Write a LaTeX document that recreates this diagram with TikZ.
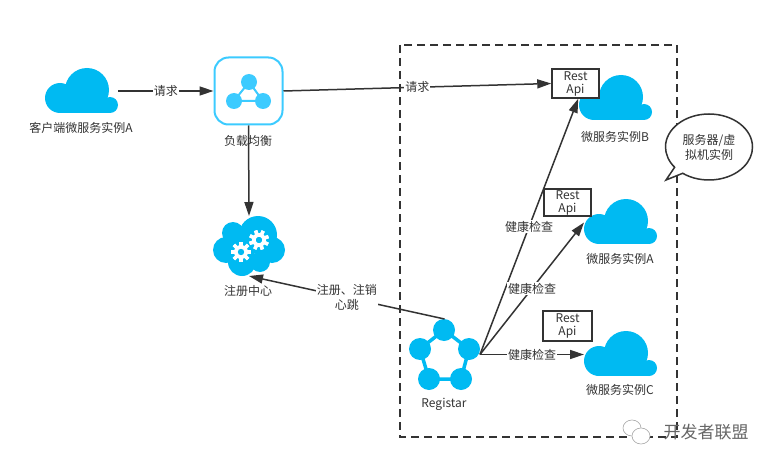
\documentclass[tikz,border=0pt]{standalone}
\usepackage{fontspec}
\setmainfont{Noto Sans CJK SC}
\usetikzlibrary{shapes,shapes.callouts,arrows.meta,positioning}

\definecolor{cloudblue}{HTML}{00BAF2}
\definecolor{lbblue}{HTML}{3CCBFF}
\definecolor{inkgray}{HTML}{333333}

\tikzset{
  iconbox/.style={inner sep=0pt, outer sep=0pt},
  caption/.style={text=inkgray, font=\fontsize{12}{15}\selectfont, align=center},
  flowlabel/.style={caption, fill=white, inner sep=1pt},
  apibox/.style={draw=inkgray, line width=1.5pt, fill=white, inner sep=0pt, text=inkgray,
    font=\fontsize{12}{15}\selectfont, align=center},
  flow/.style={draw=inkgray, line width=1.5pt, -{Triangle[length=14pt,width=9pt]}},
  cloudicon/.pic={
    \fill [cloudblue] (42,21) circle [radius=22];
    \fill [cloudblue] (15,29) circle [radius=15];
    \fill [cloudblue] (65,36) circle [radius=8];
    \fill [cloudblue] (15,30) rectangle (65,44);
  },
  gearicon/.pic={
    \fill [white] (0,0) circle [radius=7];
    \foreach \a in {0,45,...,315} {
      \fill [white, rotate=\a] (-1.7,-10) rectangle (1.7,10);
    }
    \fill [cloudblue] (0,0) circle [radius=3.2];
  }
}

\begin{document}
\begin{tikzpicture}[x=1pt, y=-1pt]
  \useasboundingbox (0,0) rectangle (781,468);

  \draw [inkgray, line width=1.5pt, dash pattern=on 8pt off 5pt] (400,45) rectangle (677,437);

  % clouds
  \node [iconbox, minimum width=73pt, minimum height=45pt] at (81.5,91) (clientA) {};
  \pic at (45,69) {cloudicon};
  \node [iconbox, minimum width=72pt, minimum height=48pt] at (615,98) (cloudB) {};
  \pic at (579,76) {cloudicon};
  \node [iconbox, minimum width=72pt, minimum height=45pt] at (620,222.5) (cloudA) {};
  \pic at (584,200) {cloudicon};
  \node [iconbox, minimum width=72pt, minimum height=45pt] at (620,354.5) (cloudC) {};
  \pic at (584,332) {cloudicon};

  % load balancer
  \node [draw=lbblue, line width=2pt, rounded corners=14pt, minimum width=68pt, minimum height=67pt, fill=white] at (248.5,91) (lb) {};
  \draw [lbblue, line width=2pt] (249,82) -- (234,101) -- (263,101) -- cycle;
  \fill [lbblue] (249,82) circle [radius=8];
  \fill [lbblue] (234,101) circle [radius=8];
  \fill [lbblue] (263,101) circle [radius=8];

  % registry cloud
  \node [iconbox, minimum width=72pt, minimum height=60pt] at (249,246) (regcloud) {};
  \fill [cloudblue] (233,233) circle [radius=11];
  \fill [cloudblue] (258,235) circle [radius=19];
  \fill [cloudblue] (226,250) circle [radius=13];
  \fill [cloudblue] (272,250) circle [radius=13];
  \fill [cloudblue] (242,262) circle [radius=14];
  \fill [cloudblue] (260,262) circle [radius=10];
  \fill [cloudblue] (240,250) circle [radius=15];
  \pic at (241,252) {gearicon};
  \pic [rotate=20] at (259,240) {gearicon};

  % registar ring
  \node [iconbox, minimum width=71pt, minimum height=71pt] at (444.5,354.5) (regist) {};
  \draw [cloudblue, line width=3.5pt] (444,330) -- (469,349) -- (461,379) -- (429,379) -- (420,349) -- cycle;
  \fill [cloudblue] (444,330) circle [radius=11];
  \fill [cloudblue] (469,349) circle [radius=11];
  \fill [cloudblue] (461,379) circle [radius=11];
  \fill [cloudblue] (429,379) circle [radius=11];
  \fill [cloudblue] (420,349) circle [radius=11];

  \node [apibox, minimum width=47pt, minimum height=29pt] at (575.5,83.5) (apiB) {Rest\\[-2pt]Api};
  \node [apibox, minimum width=47pt, minimum height=27pt] at (567.5,202.5) (apiA) {Rest\\[-2pt]Api};
  \node [apibox, minimum width=49pt, minimum height=30pt] at (567.5,326) (apiC) {Rest\\[-2pt]Api};

  \node [caption] at (81,128) (clientlabel) {客户端微服务实例A};
  \node [caption] at (248,141) (lblabel) {负载均衡};
  \node [caption] at (248,291) (reglabel) {注册中心};
  \node [caption] at (444,404) (registlabel) {Registar};
  \node [caption] at (615,137) (labelB) {微服务实例B};
  \node [caption] at (620,259) (labelA) {微服务实例A};
  \node [caption] at (620,390) (labelC) {微服务实例C};

  \node [ellipse callout, draw=inkgray, line width=1.5pt, fill=white, caption, minimum width=87pt, minimum height=66pt, inner sep=0pt, callout absolute pointer={(666,180)}] at (709,147) (server) {服务器/虚\\拟机实例};

  \draw [flow] (clientA.east) -- node [flowlabel] {请求} (lb.west);
  \draw [flow] (lb.east) -- node [flowlabel, pos=0.5] {请求} (apiB.west);
  \draw [flow] (lb.south) -- (regcloud.north);
  \draw [flow] (regist.north) -- node [flowlabel, pos=0.5] {注册、注销\\心跳} (regcloud.south);
  \draw [flow] (regist.east) -- node [flowlabel] {健康检查} (apiB.280);
  \draw [flow] (regist.east) -- node [flowlabel] {健康检查} (cloudA.west);
  \draw [flow] (regist.east) -- node [flowlabel] {健康检查} (cloudC.west);

  % watermark
  \draw [gray!70, fill=white, line width=0.6pt] (632,428) ellipse [x radius=9, y radius=8];
  \draw [gray!70, fill=white, line width=0.6pt] (641,436) ellipse [x radius=9, y radius=8];
  \node [text=white!40!black, font=\fontsize{17}{20}\selectfont, inner sep=0pt] at (706,432) (mark) {开发者联盟};
\end{tikzpicture}
\end{document}
